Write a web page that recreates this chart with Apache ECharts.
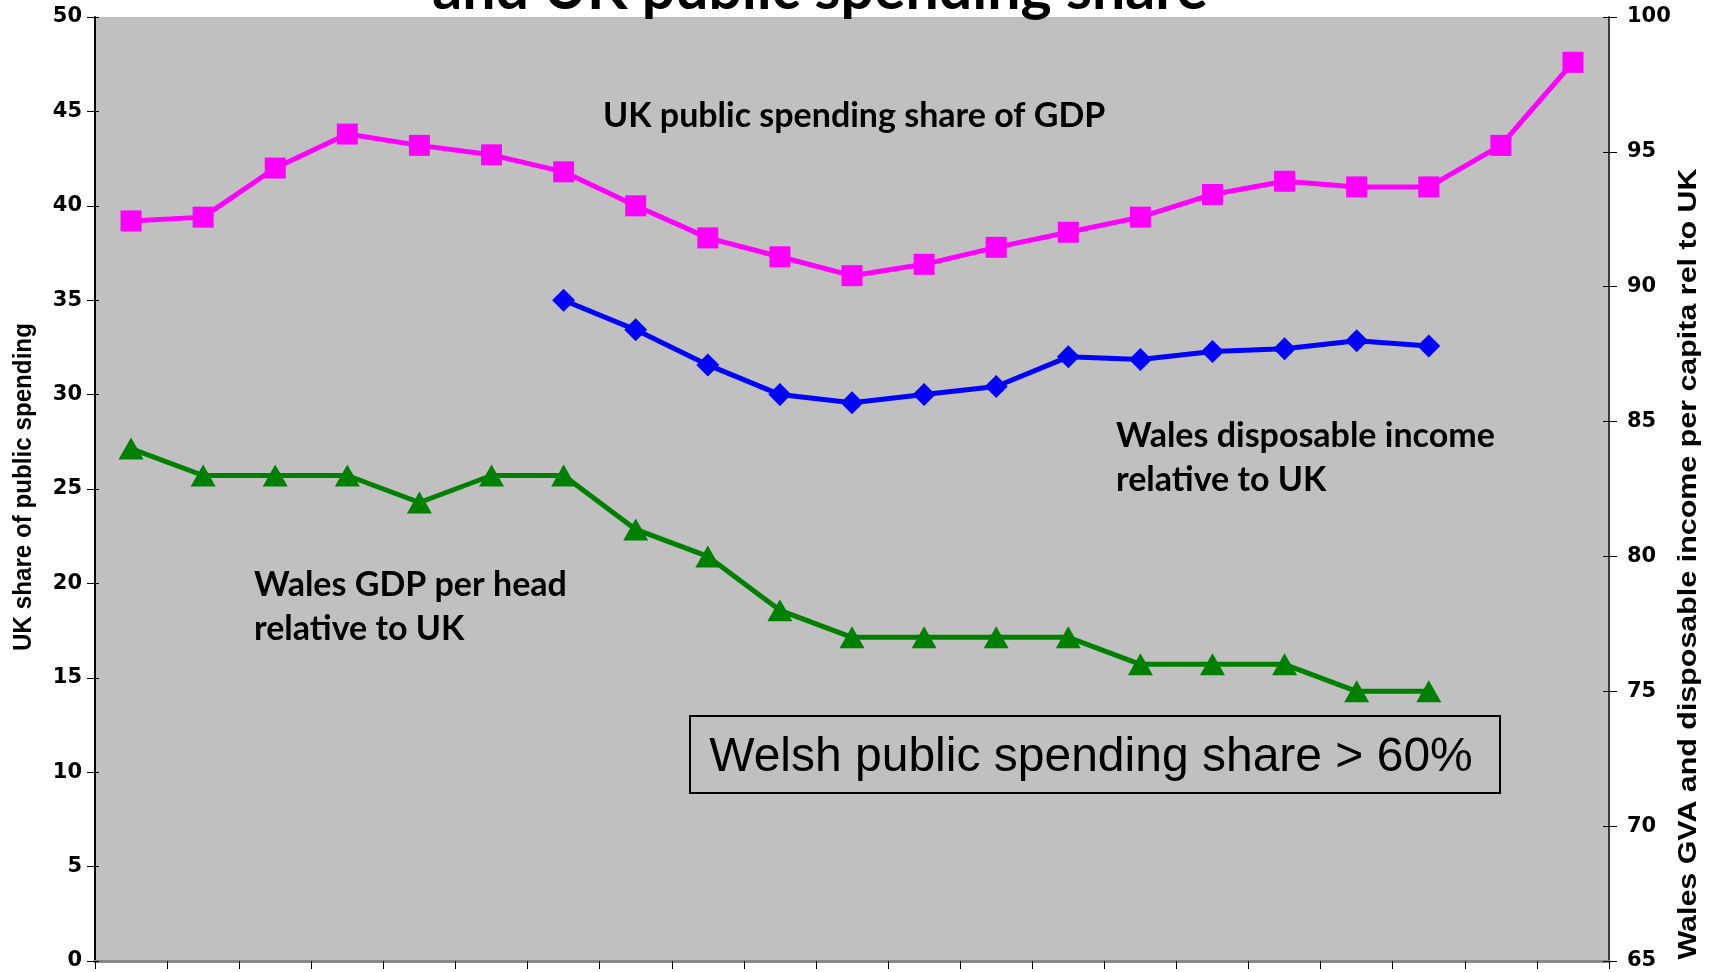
<!DOCTYPE html>
<html>
<head>
<meta charset="utf-8">
<script src="https://cdn.jsdelivr.net/npm/echarts@6/dist/echarts.min.js"></script>
<style>
  html, body { margin: 0; padding: 0; background: #ffffff; }
  #chart { width: 1709px; height: 972px; }
</style>
</head>
<body>
<div id="chart"></div>
<script>
// Periods along the horizontal axis (unlabelled on the chart)
const periods = ['1', '2', '3', '4', '5', '6', '7', '8', '9', '10', '11',
                 '12', '13', '14', '15', '16', '17', '18', '19', '20', '21'];

// UK public spending share of GDP (%), left axis
const ukSpendingShare = [39.2, 39.4, 42.0, 43.8, 43.2, 42.7, 41.8, 40.0, 38.3, 37.3, 36.3,
                         36.9, 37.8, 38.6, 39.4, 40.6, 41.3, 41.0, 41.0, 43.2, 47.6];

// Wales disposable income per head relative to UK (UK = 100), right axis
const walesIncome = [null, null, null, null, null, null, 89.5, 88.4, 87.1, 86.0, 85.7,
                     86.0, 86.3, 87.4, 87.3, 87.6, 87.7, 88.0, 87.8, null, null];

// Wales GDP (GVA) per head relative to UK (UK = 100), right axis
const walesGdp = [84, 83, 83, 83, 82, 83, 83, 81, 80, 78, 77,
                  77, 77, 77, 76, 76, 76, 75, 75, null, null];

// Axis ranges and tick spacing
const leftRange = { min: 0, max: 50, interval: 5 };
const rightRange = { min: 65, max: 100, interval: 5 };

const tickFont = { fontFamily: 'DejaVu Sans', fontWeight: 'bold', fontSize: 21, color: '#000' };
const noteFont = 'bold 34px Lato';
const nameFont = 'bold 26px "Liberation Sans", Arial, sans-serif';

const chart = echarts.init(document.getElementById('chart'), null, { renderer: 'canvas' });

chart.setOption({
  animation: false,
  backgroundColor: '#ffffff',
  grid: {
    left: 95, right: 100, top: 17, bottom: 11,
    show: true, backgroundColor: '#C0C0C0', borderWidth: 0
  },
  xAxis: [
    {
      type: 'category', data: periods, position: 'bottom', boundaryGap: true,
      axisLine: { show: true, lineStyle: { color: '#5a5a5a', width: 3 } },
      axisTick: { show: true, inside: false, length: 8, lineStyle: { color: '#000', width: 1 } },
      axisLabel: { show: false },
      splitLine: { show: false }
    },
    {
      type: 'category', data: periods, position: 'top', boundaryGap: true,
      axisLine: { show: true, lineStyle: { color: '#8a8a8a', width: 3 } },
      axisTick: { show: false }, axisLabel: { show: false }, splitLine: { show: false }
    }
  ],
  yAxis: [
    {
      type: 'value', position: 'left', ...leftRange,
      axisLine: { show: true, lineStyle: { color: '#000', width: 2 } },
      axisTick: { show: true, inside: false, length: 8, lineStyle: { color: '#000', width: 1 } },
      axisLabel: { ...tickFont, margin: 13 },
      splitLine: { show: false }
    },
    {
      type: 'value', position: 'right', ...rightRange,
      axisLine: { show: true, lineStyle: { color: '#3c3c3c', width: 2 } },
      axisTick: { show: true, inside: false, length: 8, lineStyle: { color: '#000', width: 1 } },
      axisLabel: { ...tickFont, margin: 18 },
      splitLine: { show: false }
    },
    // inner halves of the crossing tick marks
    {
      type: 'value', position: 'left', ...leftRange,
      axisLine: { show: false },
      axisTick: { show: true, inside: true, length: 4, lineStyle: { color: '#000', width: 1 } },
      axisLabel: { show: false }, splitLine: { show: false }
    },
    {
      type: 'value', position: 'right', ...rightRange,
      axisLine: { show: false },
      axisTick: { show: true, inside: true, length: 6, lineStyle: { color: '#000', width: 1 } },
      axisLabel: { show: false }, splitLine: { show: false }
    }
  ],
  series: [
    {
      name: 'UK public spending share of GDP', type: 'line', xAxisIndex: 0, yAxisIndex: 0,
      data: ukSpendingShare,
      symbol: 'rect', symbolSize: 21,
      lineStyle: { color: '#FF00FF', width: 5 },
      itemStyle: { color: '#FF00FF' }
    },
    {
      name: 'Wales disposable income relative to UK', type: 'line', xAxisIndex: 0, yAxisIndex: 1,
      data: walesIncome,
      symbol: 'diamond', symbolSize: [23, 23],
      lineStyle: { color: '#0000FF', width: 5 },
      itemStyle: { color: '#0000FF' }
    },
    {
      name: 'Wales GDP per head relative to UK', type: 'line', xAxisIndex: 0, yAxisIndex: 1,
      data: walesGdp,
      symbol: 'triangle', symbolSize: [25, 22],
      lineStyle: { color: '#008000', width: 5 },
      itemStyle: { color: '#008000' }
    }
  ],
  graphic: [
    // title (second line, top edge cropped by the canvas)
    {
      type: 'text', x: 820, y: -10, silent: true,
      style: { text: 'and UK public spending share', font: 'bold 59px Lato', fill: '#000',
               textAlign: 'center', textVerticalAlign: 'middle' }
    },
    // axis names
    {
      type: 'text', x: 24, y: 487, rotation: Math.PI / 2, scaleX: 0.93, silent: true,
      style: { text: 'UK share of public spending', font: nameFont, fill: '#000',
               textAlign: 'center', textVerticalAlign: 'middle' }
    },
    {
      type: 'text', x: 1689, y: 564, rotation: Math.PI / 2, scaleX: 1.17, silent: true,
      style: { text: 'Wales GVA and disposable income per capita rel to UK', font: nameFont, fill: '#000',
               textAlign: 'center', textVerticalAlign: 'middle' }
    },
    // series notes
    {
      type: 'text', x: 603, y: 116, silent: true,
      style: { text: 'UK public spending share of GDP', font: noteFont, fill: '#000',
               textAlign: 'left', textVerticalAlign: 'middle' }
    },
    {
      type: 'text', x: 1116, y: 414, silent: true,
      style: { text: 'Wales disposable income\nrelative to UK', font: noteFont, fill: '#000',
               lineHeight: 44, textAlign: 'left', textVerticalAlign: 'top' }
    },
    {
      type: 'text', x: 254, y: 563, silent: true,
      style: { text: 'Wales GDP per head\nrelative to UK', font: noteFont, fill: '#000',
               lineHeight: 44, textAlign: 'left', textVerticalAlign: 'top' }
    },
    // boxed note
    {
      type: 'rect', silent: true,
      shape: { x: 690, y: 716, width: 810, height: 77 },
      style: { fill: 'rgba(0,0,0,0)', stroke: '#000', lineWidth: 2 }
    },
    {
      type: 'text', x: 1091, y: 758, silent: true,
      style: { text: 'Welsh public spending share > 60%', font: '48px "Liberation Sans", Arial, sans-serif',
               fill: '#000', textAlign: 'center', textVerticalAlign: 'middle' }
    }
  ]
});
</script>
</body>
</html>
